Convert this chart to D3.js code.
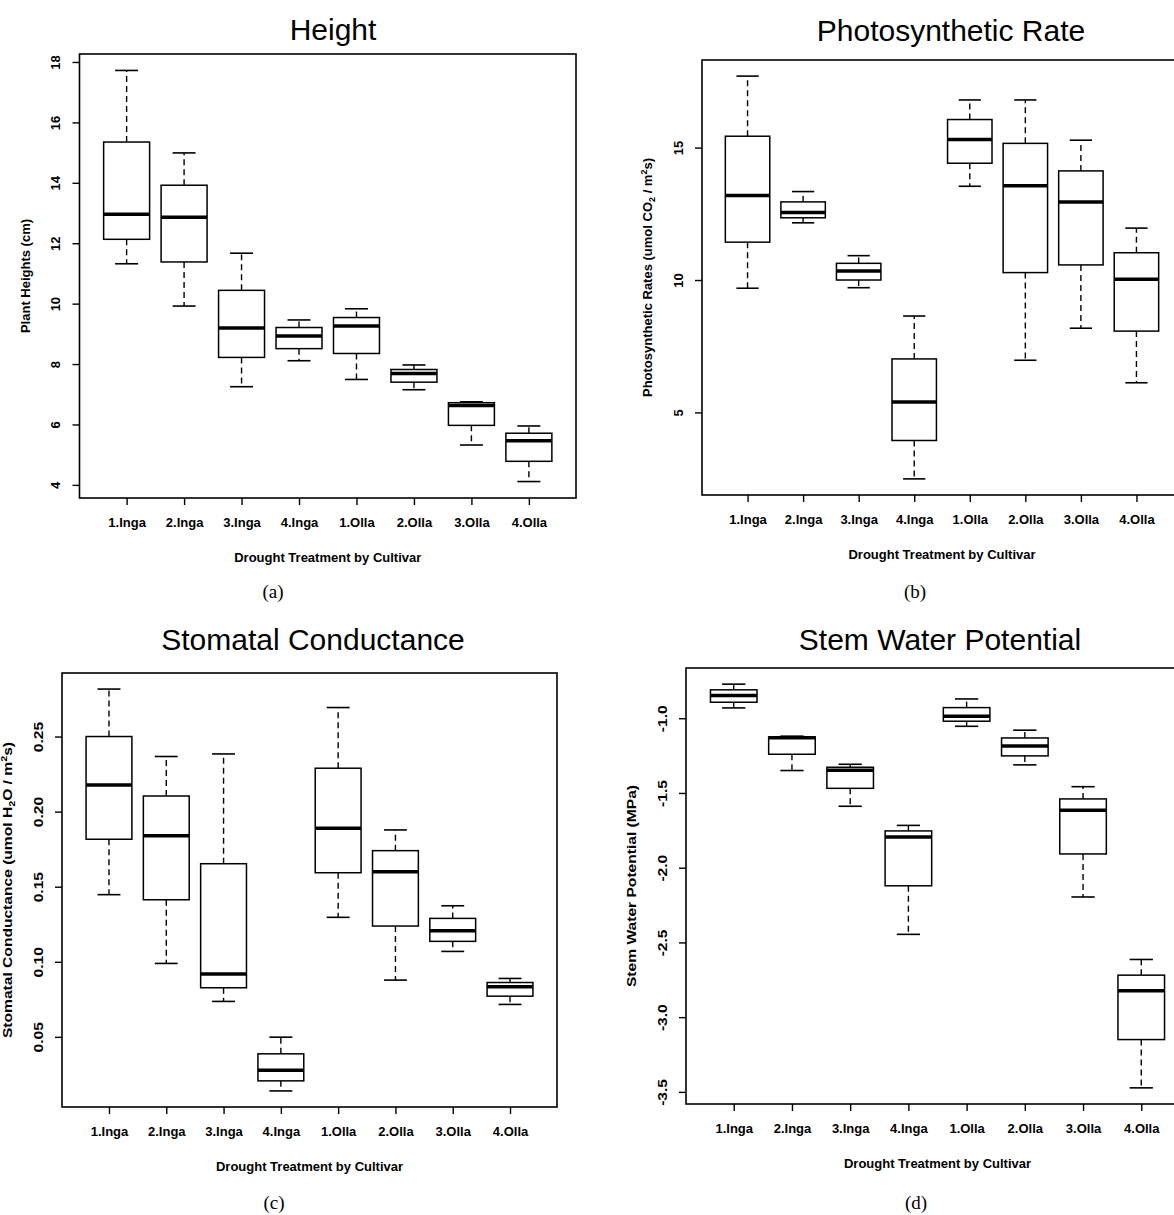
<!DOCTYPE html>
<html>
<head>
<meta charset="utf-8">
<script src="https://cdn.jsdelivr.net/npm/d3@7"></script>
<style>
  body { margin: 0; background: #fff; }
  text { font-family: "Liberation Sans", Arial, sans-serif; }
</style>
</head>
<body>
<script>
// treatments on the x axis
var cultivars = ["1.Inga", "2.Inga", "3.Inga", "4.Inga", "1.Olla", "2.Olla", "3.Olla", "4.Olla"];

// box stats per cultivar: [lower whisker, Q1, median, Q3, upper whisker]
var heightStats = [
  [11.32, 12.13, 12.96, 15.35, 17.72],
  [9.92, 11.38, 12.86, 13.92, 14.99],
  [7.25, 8.22, 9.19, 10.44, 11.67],
  [8.11, 8.51, 8.93, 9.21, 9.46],
  [7.49, 8.35, 9.26, 9.54, 9.83],
  [7.15, 7.40, 7.69, 7.82, 7.97],
  [5.32, 5.97, 6.63, 6.72, 6.75],
  [4.11, 4.78, 5.46, 5.71, 5.95]
];
var photoStats = [
  [9.69, 11.43, 13.19, 15.43, 17.70],
  [12.16, 12.35, 12.55, 12.95, 13.34],
  [9.71, 10.00, 10.34, 10.63, 10.92],
  [2.49, 3.94, 5.39, 7.02, 8.64],
  [13.54, 14.41, 15.31, 16.06, 16.80],
  [6.97, 10.28, 13.56, 15.16, 16.80],
  [8.18, 10.57, 12.95, 14.12, 15.28],
  [6.12, 8.07, 10.03, 11.03, 11.96]
];
var stomaStats = [
  [0.1447, 0.1816, 0.2178, 0.2500, 0.2816],
  [0.0989, 0.1413, 0.1840, 0.2104, 0.2367],
  [0.0736, 0.0827, 0.0918, 0.1653, 0.2384],
  [0.0140, 0.0207, 0.0278, 0.0387, 0.0498],
  [0.1296, 0.1593, 0.1889, 0.2289, 0.2693],
  [0.0878, 0.1238, 0.1600, 0.1740, 0.1878],
  [0.1069, 0.1136, 0.1207, 0.1289, 0.1373],
  [0.0716, 0.0771, 0.0833, 0.0862, 0.0889]
];
var stemStats = [
  [-0.931, -0.893, -0.848, -0.810, -0.772],
  [-1.350, -1.241, -1.130, -1.125, -1.120],
  [-1.589, -1.469, -1.348, -1.328, -1.308],
  [-2.446, -2.121, -1.795, -1.754, -1.717],
  [-1.054, -1.020, -0.987, -0.929, -0.871],
  [-1.312, -1.252, -1.185, -1.132, -1.080],
  [-2.196, -1.908, -1.616, -1.540, -1.458],
  [-3.473, -3.150, -2.824, -2.719, -2.614]
];

// y tick labels
var heightTicks = [4, 6, 8, 10, 12, 14, 16, 18];
var photoTicks = [5, 10, 15];
var stomaTicks = [0.05, 0.10, 0.15, 0.20, 0.25];
var stemTicks = [-3.5, -3.0, -2.5, -2.0, -1.5, -1.0];

// y axis titles, split in pieces so sub/superscripts can be set
var heightLabel = [["Plant Heights (cm)"]];
var photoLabel = [["Photosynthetic Rates (umol CO"], ["2", "sub"], [" / m"], ["2", "sup"], ["s)"]];
var stomaLabel = [["Stomatal Conductance (umol H"], ["2", "sub"], ["O / m"], ["2", "sup"], ["s)"]];
var stemLabel = [["Stem Water Potential (MPa)"]];

var xTitle = "Drought Treatment by Cultivar";

// R prints a plain hyphen for negatives
function fmt(spec) {
  var f = d3.format(spec);
  return function(v) { return f(v).replace("\u2212", "-"); };
}

// sy: stretch of the rotated y texts along their reading direction
var panels = [
  {title: "Height", stats: heightStats, ticks: heightTicks, fmt: fmt("d"), ylab: heightLabel, caption: "(a)",
   left: 79.5, right: 576, top: 54, bottom: 498, titleX: 333, titleY: 40, capX: 273, capY: 598, sy: 1},
  {title: "Photosynthetic Rate", stats: photoStats, ticks: photoTicks, fmt: fmt("d"), ylab: photoLabel, caption: "(b)",
   left: 702, right: 1182, top: 60, bottom: 495, titleX: 951, titleY: 41, capX: 915, capY: 598, sy: 1},
  {title: "Stomatal Conductance", stats: stomaStats, ticks: stomaTicks, fmt: fmt(".2f"), ylab: stomaLabel, caption: "(c)",
   left: 62, right: 557, top: 673, bottom: 1107, titleX: 313, titleY: 650, capX: 274, capY: 1209, sy: 1.2},
  {title: "Stem Water Potential", stats: stemStats, ticks: stemTicks, fmt: fmt(".1f"), ylab: stemLabel, caption: "(d)",
   left: 686, right: 1189, top: 668, bottom: 1104, titleX: 940, titleY: 650, capX: 916, capY: 1209, sy: 1.2}
];

var W = 1174, H = 1215;

var svg = d3.select("body")
            .append("svg")
            .attr("width", W)
            .attr("height", H)
            .style("display", "block");

svg.append("rect").attr("width", W).attr("height", H).attr("fill", "#fff");

panels.forEach(function(p) {
  var g = svg.append("g");

  // R style: 4% padding around data range
  var lo = d3.min(p.stats, function(d) { return d[0]; });
  var hi = d3.max(p.stats, function(d) { return d[4]; });
  var pad = (hi - lo) * 0.04;

  var x = d3.scaleLinear()
            .domain([0.5 - 0.32, 8.5 + 0.32])
            .range([p.left, p.right]);

  var y = d3.scaleLinear()
            .domain([lo - pad, hi + pad])
            .range([p.bottom, p.top]);

  //Boxes
  var box = g.selectAll("g.box")
             .data(p.stats)
             .enter()
             .append("g")
             .attr("class", "box");

  // whiskers
  box.append("line")
     .attr("x1", function(d, i) { return x(i + 1); })
     .attr("x2", function(d, i) { return x(i + 1); })
     .attr("y1", function(d) { return y(d[3]); })
     .attr("y2", function(d) { return y(d[4]); });
  box.append("line")
     .attr("x1", function(d, i) { return x(i + 1); })
     .attr("x2", function(d, i) { return x(i + 1); })
     .attr("y1", function(d) { return y(d[1]); })
     .attr("y2", function(d) { return y(d[0]); });
  box.selectAll("line")
     .style("stroke", "#000")
     .style("stroke-width", 1.4)
     .style("stroke-dasharray", "6,4");

  // staples
  [0, 4].forEach(function(k) {
    box.append("line")
       .attr("x1", function(d, i) { return x(i + 1 - 0.2); })
       .attr("x2", function(d, i) { return x(i + 1 + 0.2); })
       .attr("y1", function(d) { return y(d[k]); })
       .attr("y2", function(d) { return y(d[k]); })
       .style("stroke", "#000")
       .style("stroke-width", 1.6);
  });

  box.append("rect")
     .attr("x", function(d, i) { return x(i + 1 - 0.4); })
     .attr("width", function(d, i) { return x(i + 1 + 0.4) - x(i + 1 - 0.4); })
     .attr("y", function(d) { return y(d[3]); })
     .attr("height", function(d) { return y(d[1]) - y(d[3]); })
     .style("fill", "#fff")
     .style("stroke", "#000")
     .style("stroke-width", 1.5);

  box.append("line")
     .attr("x1", function(d, i) { return x(i + 1 - 0.4); })
     .attr("x2", function(d, i) { return x(i + 1 + 0.4); })
     .attr("y1", function(d) { return y(d[2]); })
     .attr("y2", function(d) { return y(d[2]); })
     .style("stroke", "#000")
     .style("stroke-width", 3.5);

  // frame
  g.append("rect")
   .attr("x", p.left)
   .attr("y", p.top)
   .attr("width", p.right - p.left)
   .attr("height", p.bottom - p.top)
   .style("fill", "none")
   .style("stroke", "#000")
   .style("stroke-width", 1.6);

  // y axis
  var yAxis = g.append("g")
               .attr("transform", "translate(" + p.left + ",0)")
               .call(d3.axisLeft(y).tickValues(p.ticks).tickFormat(p.fmt).tickSize(7));
  yAxis.select(".domain").remove();
  yAxis.selectAll(".tick line").style("stroke-width", 1.4);
  yAxis.selectAll(".tick text")
       .attr("x", null).attr("dy", null)
       .attr("transform", "translate(-19.5,0) rotate(-90) scale(" + p.sy + ",1)")
       .attr("text-anchor", "middle")
       .style("font-size", "13px")
       .style("font-weight", "bold")
       .style("font-family", "'Liberation Sans', Arial, sans-serif")
       .style("fill", "#000");

  // x axis
  var xAxis = g.append("g")
               .attr("transform", "translate(0," + p.bottom + ")")
               .call(d3.axisBottom(x).tickValues(d3.range(1, 9))
                       .tickFormat(function(i) { return cultivars[i - 1]; })
                       .tickSize(7));
  xAxis.select(".domain").remove();
  xAxis.selectAll(".tick line").style("stroke-width", 1.4);
  xAxis.selectAll(".tick text")
       .attr("y", 29).attr("dy", null)
       .style("font-size", "13px")
       .style("font-weight", "bold")
       .style("font-family", "'Liberation Sans', Arial, sans-serif")
       .style("fill", "#000");

  // x title
  g.append("text")
   .attr("x", (p.left + p.right) / 2)
   .attr("y", p.bottom + 64)
   .attr("text-anchor", "middle")
   .style("font-size", "13px")
   .style("font-weight", "bold")
   .text(xTitle);

  // y title
  var yt = g.append("text")
            .attr("transform", "translate(" + (p.left - 50) + "," + ((p.top + p.bottom) / 2) + ") rotate(-90) scale(" + p.sy + ",1)")
            .attr("text-anchor", "middle")
            .style("font-size", "13px")
            .style("font-weight", "bold");
  var prevKind = null;
  p.ylab.forEach(function(piece) {
    var t = yt.append("tspan").text(piece[0]);
    if (piece[1] === "sub") t.attr("dy", 3).style("font-size", "9px");
    else if (piece[1] === "sup") t.attr("dy", -5).style("font-size", "9px");
    else if (prevKind === "sub") t.attr("dy", -3);
    else if (prevKind === "sup") t.attr("dy", 5);
    prevKind = piece[1] || null;
  });

  // title
  g.append("text")
   .attr("x", p.titleX)
   .attr("y", p.titleY)
   .attr("text-anchor", "middle")
   .style("font-size", "30px")
   .text(p.title);

  // caption
  g.append("text")
   .attr("x", p.capX)
   .attr("y", p.capY)
   .attr("text-anchor", "middle")
   .style("font-family", "'Liberation Serif', 'Times New Roman', serif")
   .style("font-size", "19px")
   .text(p.caption);
});
</script>
</body>
</html>
